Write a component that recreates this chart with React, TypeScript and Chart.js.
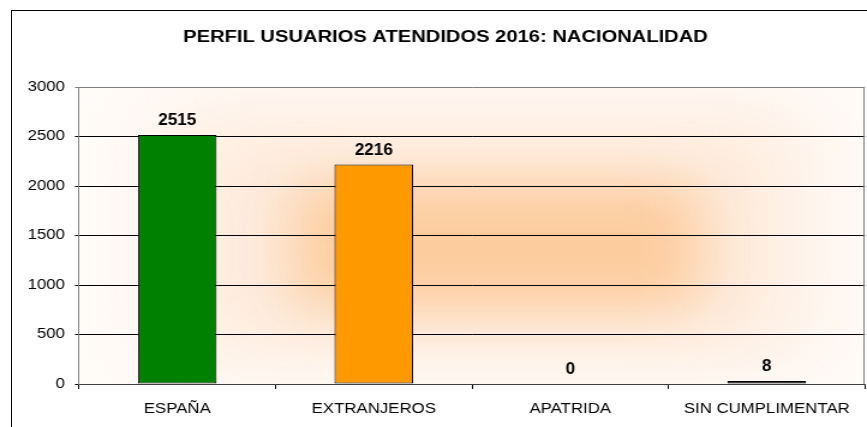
import React, { useEffect, useRef } from "react";
import { Chart, registerables } from "chart.js";

Chart.register(...registerables);

const categories = ["ESPAÑA", "EXTRANJEROS", "APATRIDA", "SIN CUMPLIMENTAR"];
const values = [2515, 2216, 0, 8];
const barColors = ["#008000", "#FF9900", "rgba(0,0,0,0)", "#000000"];
const barBorders = [1, 1, 0, 1];
const yMin = 0;
const yMax = 3000;
const yStep = 500;
const chartTitle = "PERFIL USUARIOS ATENDIDOS 2016: NACIONALIDAD";

const W = 867;
const H = 427;
const LW = 722;
const SX = W / LW;
const FONT = "'Liberation Sans', Arial, sans-serif";

export default function App() {
  const ref = useRef<HTMLCanvasElement | null>(null);

  useEffect(() => {
    if (!ref.current) return;

    const glowPlugin = {
      id: "glow",
      beforeDraw(chart: any) {
        const { ctx, chartArea: a } = chart;
        ctx.save();
        ctx.beginPath();
        ctx.rect(a.left, a.top, a.right - a.left, a.bottom - a.top);
        ctx.clip();
        ctx.fillStyle = "rgb(255,252,249)";
        ctx.fillRect(a.left, a.top, a.right - a.left, a.bottom - a.top);
        ctx.filter = "blur(40px)";
        ctx.fillStyle = "rgb(254,236,222)";
        ctx.fillRect(160 / SX, 105, 650 / SX, 260);
        ctx.filter = "blur(26px)";
        ctx.fillStyle = "rgb(252,204,158)";
        ctx.fillRect(295 / SX, 182, 405 / SX, 128);
        ctx.restore();
      },
    };

    const decoPlugin = {
      id: "deco",
      afterDraw(chart: any) {
        const { ctx, chartArea: a } = chart;
        ctx.save();
        ctx.strokeStyle = "#808080";
        ctx.lineWidth = 1;
        ctx.beginPath();
        ctx.moveTo(Math.round(a.right) - 0.5, a.top);
        ctx.lineTo(Math.round(a.right) - 0.5, a.bottom);
        ctx.stroke();
        ctx.fillStyle = "#000";
        ctx.font = `bold 16.8px ${FONT}`;
        ctx.textAlign = "center";
        ctx.textBaseline = "alphabetic";
        ctx.fillText(chartTitle, 445.5 / SX, 42);
        ctx.font = `bold 16px ${FONT}`;
        const f = 1.07 / SX;
        const meta = chart.getDatasetMeta(0);
        meta.data.forEach((bar: any, i: number) => {
          const top = Math.min(bar.y, bar.base);
          const y = (values[i] === 0 ? bar.base : top) - 10;
          ctx.save();
          ctx.translate(bar.x, y);
          ctx.scale(f, 1);
          ctx.fillText(String(values[i]), 0, 0);
          ctx.restore();
        });
        ctx.restore();
      },
    };

    const chart = new Chart(ref.current, {
      type: "bar",
      data: {
        labels: categories,
        datasets: [
          {
            data: values,
            backgroundColor: barColors,
            borderColor: "#000",
            borderWidth: barBorders,
            borderSkipped: false,
            categoryPercentage: 0.8,
            barPercentage: 0.5,
            minBarLength: 3,
          },
        ],
      },
      options: {
        animation: false,
        responsive: true,
        maintainAspectRatio: false,
        layout: { padding: { top: 87, right: LW - 865 / SX, left: 0, bottom: 0 } },
        plugins: {
          legend: { display: false },
          title: { display: false },
          tooltip: { enabled: false },
        },
        scales: {
          x: {
            grid: {
              offset: true,
              drawOnChartArea: false,
              color: "#000",
              tickLength: 5,
            },
            border: { color: "#404040" },
            ticks: {
              color: "#000",
              font: { family: FONT, size: 14 },
              padding: 12,
              maxRotation: 0,
              autoSkip: false,
            },
            afterFit(scale: any) {
              scale.height = H - 384;
            },
          },
          y: {
            min: yMin,
            max: yMax,
            ticks: {
              stepSize: yStep,
              color: "#000",
              font: { family: FONT, size: 14 },
              padding: 8.3,
              callback: (v: any) => String(v),
            },
            grid: {
              color: (c: any) => (c.tick && c.tick.value === yMax ? "#808080" : "#000"),
              tickLength: 3.4,
            },
            border: { color: "#808080" },
            afterFit(scale: any) {
              scale.width = 79 / SX;
            },
          },
        },
      },
      plugins: [glowPlugin, decoPlugin],
    });

    return () => chart.destroy();
  }, []);

  return (
    <div
      style={{
        position: "fixed",
        left: 0,
        top: 0,
        width: W,
        height: H,
        overflow: "hidden",
        background: "#fff",
      }}
    >
      <div
        style={{
          position: "absolute",
          left: 0,
          top: 0,
          width: LW,
          height: H,
          transform: `scaleX(${SX})`,
          transformOrigin: "0 0",
        }}
      >
        <canvas ref={ref} />
      </div>
      <div
        style={{
          position: "absolute",
          left: 11,
          top: 10,
          width: 1000,
          height: 1000,
          border: "1px solid #000",
          pointerEvents: "none",
        }}
      />
    </div>
  );
}
